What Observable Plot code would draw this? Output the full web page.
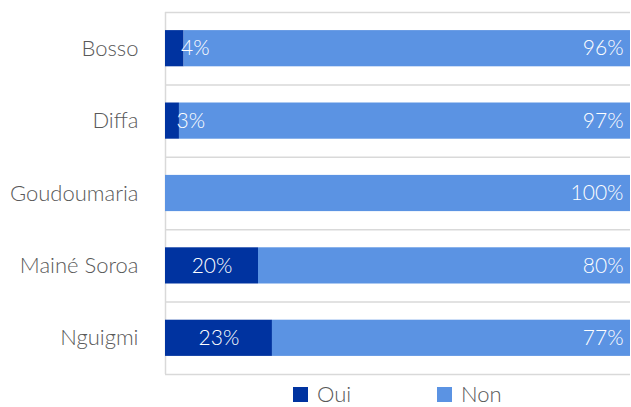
<!DOCTYPE html>
<html>
<head>
<meta charset="utf-8">
<script src="https://cdn.jsdelivr.net/npm/d3@7"></script>
<script src="https://cdn.jsdelivr.net/npm/@observablehq/plot@0.6"></script>
<style>
  html, body { margin: 0; padding: 0; background: #fff; }
  body { width: 631px; height: 407px; overflow: hidden; font-family: "Lato Light", Lato, sans-serif; font-weight: 300; }
  #legend { position: relative; height: 27px; font-size: 22px; line-height: 24px; color: #595959; }
  .item { position: absolute; display: flex; align-items: center; top: 2px; }
  .sw { width: 15px; height: 15px; margin-right: 9px; }
</style>
</head>
<body>
<div id="chart"></div>
<div id="legend"></div>
<script>
const categories = ["Bosso", "Diffa", "Goudoumaria", "Mainé Soroa", "Nguigmi"];
const oui = [4, 3, 0, 20, 23];
const non = [96, 97, 100, 80, 77];
const seriesNames = ["Oui", "Non"];
const seriesColors = ["#0033a0", "#5b93e3"];

const rows = [];
categories.forEach((c, i) => {
  rows.push({cat: c, i, series: "Oui", v: oui[i], x1: 0, x2: oui[i]});
  rows.push({cat: c, i, series: "Non", v: non[i], x1: oui[i], x2: oui[i] + non[i]});
});
const bounds = categories.map((_, i) => i - 0.5).concat([categories.length - 0.5]);

const ouiRows = rows.filter(d => d.series === "Oui" && d.v > 0);
const chart = Plot.plot({
  width: 631,
  height: 380,
  marginLeft: 165,
  marginRight: 1,
  marginTop: 12,
  marginBottom: 6,
  style: {fontFamily: "'Lato Light', Lato, sans-serif", fontWeight: 300, background: "#fff"},
  x: {domain: [0, 100], axis: null},
  y: {domain: [-0.5, categories.length - 0.5], reverse: true, axis: null},
  color: {domain: seriesNames, range: seriesColors},
  marks: [
    Plot.ruleY(bounds, {y: d => d, stroke: "#d9d9d9", strokeWidth: 1.5}),
    Plot.ruleX([0], {stroke: "#d9d9d9", strokeWidth: 1.5}),
    Plot.rect(rows.filter(d => d.v > 0), {x1: "x1", x2: "x2", y1: d => d.i - 0.25, y2: d => d.i + 0.25, fill: "series"}),
    Plot.axisY({ticks: categories.map((_, i) => i), tickFormat: i => categories[i], tickSize: 0, tickPadding: 27, fontSize: 22, fill: "#595959", stroke: null, label: null}),
    Plot.text(ouiRows.filter(d => d.v < 10), {x: "x2", y: "i", text: d => d.v + "%", textAnchor: "start", dx: -3, fill: "white", fontSize: 21}),
    Plot.text(ouiRows.filter(d => d.v >= 10), {x: d => d.x2 / 2, y: "i", text: d => d.v + "%", textAnchor: "middle", fill: "white", fontSize: 21}),
    Plot.text(rows.filter(d => d.series === "Non"), {x: "x2", y: "i", text: d => d.v + "%", textAnchor: "end", dx: -7, fill: "white", fontSize: 21})
  ]
});
document.getElementById("chart").appendChild(chart);

const legend = document.getElementById("legend");
const lefts = [293, 437];
seriesNames.forEach((n, k) => {
  const it = document.createElement("div");
  it.className = "item";
  it.style.left = lefts[k] + "px";
  it.innerHTML = `<span class="sw" style="background:${seriesColors[k]}"></span><span>${n}</span>`;
  legend.appendChild(it);
});
</script>
</body>
</html>
